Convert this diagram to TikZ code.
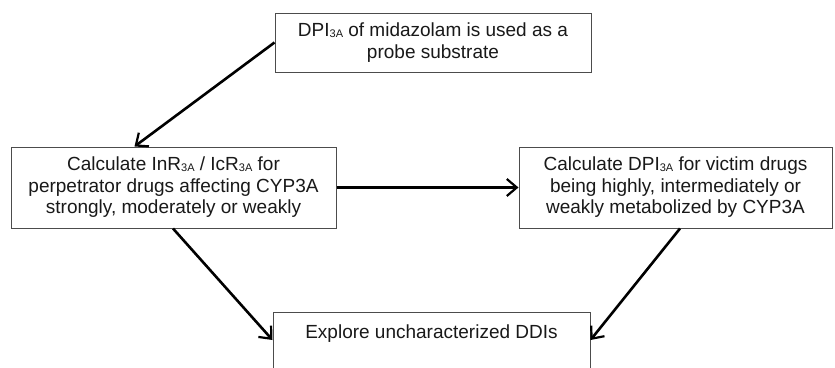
\documentclass[tikz,border=0pt]{standalone}
\usepackage{fontspec}
\setmainfont{Liberation Sans}
\usetikzlibrary{arrows.meta,calc}
% small subscript-style index set on the baseline
\newcommand{\idx}[1]{\raisebox{-0.8pt}{\fontsize{11}{11}\selectfont #1}}
\tikzset{
  box/.style={draw=black!70, line width=1pt, fill=white, align=center,
    font=\fontsize{19}{21.5}\selectfont, text=black!90, inner sep=0pt},
  link/.style={line width=2.6pt, -{Straight Barb[length=10pt,width=17pt,line width=2.2pt]}}
}
\begin{document}
\begin{tikzpicture}[x=1pt,y=1pt]
  \useasboundingbox (0,0) rectangle (835,-367);
  \clip (0,0) rectangle (835,-367);
  \fill[white] (0,0) rectangle (835,-367);

  \node[box, minimum width=316, minimum height=59] (top) at (433,-42.5)
    {DPI\idx{3A} of midazolam is used as a\\probe substrate};
  \node[box, minimum width=325, minimum height=81] (left) at (173.5,-187.5)
    {Calculate InR\idx{3A} / IcR\idx{3A} for\\perpetrator drugs affecting CYP3A\\strongly, moderately or weakly};
  \node[box, minimum width=313, minimum height=81] (right) at (675.5,-187.5)
    {Calculate DPI\idx{3A} for victim drugs\\being highly, intermediately or\\weakly metabolized by CYP3A};
  \node[box, anchor=north, minimum width=317, inner ysep=8pt,
        text height=17.5pt, text depth=50pt] (bot) at (431.5,-312)
    {Explore uncharacterized DDIs};

  \draw[link] (top.west) -- ($(left.north west)+(124,0)$);
  \draw[link] (left.east) -- (right.west);
  \draw[link] ($(left.south)+(-0.5,0)$) -- ($(bot.north west)+(0,-28)$);
  \draw[link] ($(right.south)+(4.5,0)$) -- ($(bot.north east)+(0,-28)$);
\end{tikzpicture}
\end{document}
